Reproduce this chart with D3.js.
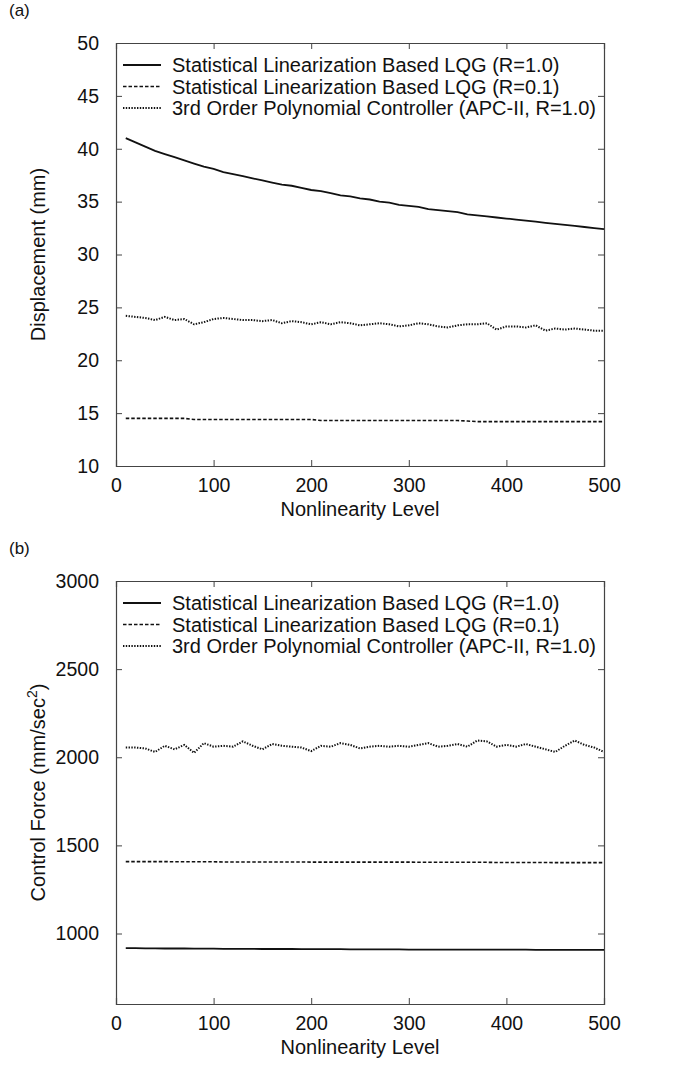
<!DOCTYPE html>
<html>
<head>
<meta charset="utf-8">
<script src="https://cdn.jsdelivr.net/npm/d3@7"></script>
<style>
  body { margin: 0; background: #fff; }
  svg text { font-family: "Liberation Sans", Arial, sans-serif; fill: #111; }
</style>
</head>
<body>
<div id="chart"></div>
<script>
// nonlinearity levels (x values)
const levels = [10, 20, 30, 40, 50, 60, 70, 80, 90, 100,
  110, 120, 130, 140, 150, 160, 170, 180, 190, 200,
  210, 220, 230, 240, 250, 260, 270, 280, 290, 300,
  310, 320, 330, 340, 350, 360, 370, 380, 390, 400,
  410, 420, 430, 440, 450, 460, 470, 480, 490, 500];

const legendLabels = [
  "Statistical Linearization Based LQG (R=1.0)",
  "Statistical Linearization Based LQG (R=0.1)",
  "3rd Order Polynomial Controller (APC-II, R=1.0)"
];

const xTicks = [0, 100, 200, 300, 400, 500];

// (a) displacement, mm
const dispTicks = [10, 15, 20, 25, 30, 35, 40, 45, 50];
const dispLqg10 = [41.0, 40.6, 40.2, 39.8, 39.5, 39.2, 38.9, 38.6, 38.3, 38.1,
  37.8, 37.6, 37.4, 37.2, 37.0, 36.8, 36.6, 36.5, 36.3, 36.1,
  36.0, 35.8, 35.6, 35.5, 35.3, 35.2, 35.0, 34.9, 34.7, 34.6,
  34.5, 34.3, 34.2, 34.1, 34.0, 33.8, 33.7, 33.6, 33.5, 33.4,
  33.3, 33.2, 33.1, 33.0, 32.9, 32.8, 32.7, 32.6, 32.5, 32.4];
const dispLqg01 = [14.5, 14.5, 14.5, 14.5, 14.5, 14.5, 14.5, 14.4, 14.4, 14.4,
  14.4, 14.4, 14.4, 14.4, 14.4, 14.4, 14.4, 14.4, 14.4, 14.4,
  14.3, 14.3, 14.3, 14.3, 14.3, 14.3, 14.3, 14.3, 14.3, 14.3,
  14.3, 14.3, 14.3, 14.3, 14.3, 14.25, 14.2, 14.2, 14.2, 14.2,
  14.2, 14.2, 14.2, 14.2, 14.2, 14.2, 14.2, 14.2, 14.2, 14.2];
const dispApc = [24.2, 24.1, 24.0, 23.8, 24.1, 23.8, 23.9, 23.4, 23.6, 23.9,
  24.0, 23.9, 23.8, 23.8, 23.7, 23.8, 23.5, 23.7, 23.6, 23.4,
  23.6, 23.4, 23.6, 23.5, 23.3, 23.4, 23.5, 23.4, 23.2, 23.3,
  23.5, 23.4, 23.2, 23.1, 23.3, 23.4, 23.4, 23.5, 22.9, 23.2,
  23.2, 23.1, 23.3, 22.8, 23.0, 22.9, 23.0, 22.9, 22.8, 22.8];

// (b) control force, mm/sec^2
const forceTicks = [1000, 1500, 2000, 2500, 3000];
const forceLqg10 = [917, 917, 916, 916, 915, 915, 915, 914, 914, 914,
  913, 913, 913, 913, 912, 912, 912, 912, 911, 911,
  911, 911, 911, 910, 910, 910, 910, 910, 910, 909,
  909, 909, 909, 909, 909, 908, 908, 908, 908, 908,
  908, 908, 907, 907, 907, 907, 907, 907, 907, 907];
const forceLqg01 = [1408, 1408, 1408, 1408, 1408, 1407, 1407, 1407, 1407, 1407,
  1406, 1406, 1406, 1406, 1406, 1406, 1406, 1406, 1406, 1405,
  1405, 1405, 1405, 1405, 1405, 1405, 1405, 1405, 1405, 1405,
  1404, 1404, 1404, 1404, 1404, 1404, 1404, 1404, 1403, 1403,
  1403, 1403, 1403, 1403, 1402, 1402, 1402, 1402, 1402, 1402];
const forceApc = [2055, 2055, 2050, 2030, 2065, 2045, 2070, 2025, 2080, 2060,
  2065, 2060, 2090, 2065, 2045, 2075, 2065, 2060, 2055, 2035,
  2065, 2060, 2080, 2070, 2050, 2060, 2065, 2060, 2065, 2060,
  2070, 2080, 2060, 2065, 2075, 2060, 2095, 2090, 2060, 2070,
  2060, 2075, 2060, 2045, 2030, 2065, 2095, 2070, 2055, 2030];

const width = 673, height = 1070;
const styles = [
  { dash: null, w: 1.8 },
  { dash: "3.5,2", w: 1.6 },
  { dash: "1.4,1.4", w: 2 }
];

const svg = d3.select("#chart").append("svg")
  .attr("width", width)
  .attr("height", height);

function drawPanel(cfg) {
  const { top, bottom, left, right, yDomain, yTicks, series, tag, yLabel } = cfg;
  const g = svg.append("g");

  const x = d3.scaleLinear().domain([0, 500]).range([left, right]);
  const y = d3.scaleLinear().domain(yDomain).range([bottom, top]);

  // panel tag
  g.append("text").attr("x", 9).attr("y", top - 27)
    .attr("font-size", 17).text(tag);

  // inward ticks on all four sides (matlab style box)
  const tk = 6;
  g.append("g").attr("transform", `translate(0,${bottom})`)
    .call(d3.axisBottom(x).tickValues(xTicks).tickSize(-tk).tickPadding(12).tickFormat(d3.format("d")));
  g.append("g").attr("transform", `translate(0,${top})`)
    .call(d3.axisTop(x).tickValues(xTicks).tickSize(-tk).tickFormat(""));
  g.append("g").attr("transform", `translate(${left},0)`)
    .call(d3.axisLeft(y).tickValues(yTicks).tickSize(-tk).tickPadding(17).tickFormat(d3.format("d")));
  g.append("g").attr("transform", `translate(${right},0)`)
    .call(d3.axisRight(y).tickValues(yTicks).tickSize(-tk).tickFormat(""));

  g.selectAll(".domain").attr("stroke", "#444").attr("stroke-width", 1.2);
  g.selectAll(".tick line").attr("stroke", "#444");
  g.selectAll(".tick text").attr("font-size", 19.5)
    .attr("font-family", "'Liberation Sans', Arial, sans-serif").attr("fill", "#111");

  // lines
  const line = d3.line().x((d, i) => x(levels[i])).y(d => y(d));
  series.forEach((s, i) => {
    g.append("path").datum(s)
      .attr("d", line)
      .attr("fill", "none")
      .attr("stroke", "#111")
      .attr("stroke-width", styles[i].w)
      .attr("stroke-dasharray", styles[i].dash);
  });

  // legend
  const lg = g.append("g");
  legendLabels.forEach((lab, i) => {
    const ly = top + 22 + i * 21.5;
    lg.append("line")
      .attr("x1", left + 7).attr("x2", left + 45)
      .attr("y1", ly).attr("y2", ly)
      .attr("stroke", "#111")
      .attr("stroke-width", styles[i].w)
      .attr("stroke-dasharray", styles[i].dash);
    lg.append("text")
      .attr("x", left + 56).attr("y", ly + 7)
      .attr("font-size", 20)
      .text(lab);
  });

  // axis labels
  g.append("text")
    .attr("x", (left + right) / 2).attr("y", bottom + 50)
    .attr("text-anchor", "middle").attr("font-size", 20)
    .text("Nonlinearity Level");

  const yl = g.append("text")
    .attr("transform", `translate(45,${(top + bottom) / 2}) rotate(-90)`)
    .attr("text-anchor", "middle").attr("font-size", 20);
  yLabel(yl);
}

drawPanel({
  top: 43, bottom: 466, left: 116, right: 604,
  yDomain: [10, 50], yTicks: dispTicks,
  series: [dispLqg10, dispLqg01, dispApc],
  tag: "(a)",
  yLabel: t => t.text("Displacement (mm)")
});

drawPanel({
  top: 581, bottom: 1004, left: 116, right: 604,
  yDomain: [600, 3000], yTicks: forceTicks,
  series: [forceLqg10, forceLqg01, forceApc],
  tag: "(b)",
  yLabel: t => {
    t.append("tspan").text("Control Force (mm/sec");
    t.append("tspan").attr("baseline-shift", "super").attr("font-size", 14).text("2");
    t.append("tspan").text(")");
  }
});
</script>
</body>
</html>
